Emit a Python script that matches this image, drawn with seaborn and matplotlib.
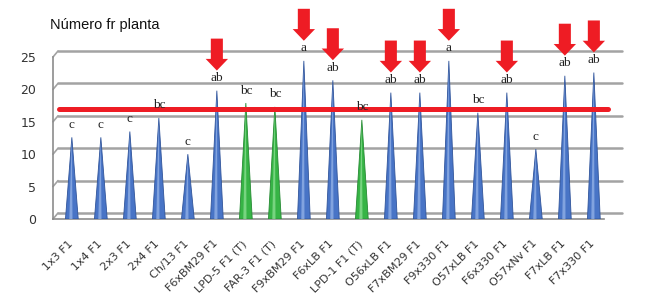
import numpy as np
import matplotlib
matplotlib.use("Agg")
import matplotlib.pyplot as plt
import matplotlib.transforms as mtrans
from matplotlib.patches import Polygon
import seaborn as sns

# data
categories = ["1x3 F1", "1x4 F1", "2x3 F1", "2x4 F1", "Ch/13 F1", "F6xBM29 F1",
              "LPD-5 F1 (T)", "FAR-3 F1 (T)", "F9xBM29 F1", "F6xLB F1",
              "LPD-1 F1 (T)", "O56xLB F1", "F7xBM29 F1", "F9x330 F1",
              "O57xLB F1", "F6x330 F1", "O57xNv F1", "F7xLB F1", "F7x330 F1"]
values = [12.6, 12.6, 13.5, 15.6, 10.0, 19.8, 17.9, 17.3, 24.4, 21.4,
          15.3, 19.5, 19.5, 24.4, 16.4, 19.5, 10.8, 22.1, 22.6]
groups = ["F1", "F1", "F1", "F1", "F1", "F1", "T", "T", "F1", "F1",
          "T", "F1", "F1", "F1", "F1", "F1", "F1", "F1", "F1"]
letters = ["c", "c", "c", "bc", "c", "ab", "bc", "bc", "a", "ab",
           "bc", "ab", "ab", "a", "bc", "ab", "c", "ab", "ab"]
marked = [False, False, False, False, False, True, False, False, True, True,
          False, True, True, True, False, True, False, True, True]
threshold = 17
yticks = [0, 5, 10, 15, 20, 25]

palette = {"F1": "#4874c6", "T": "#36b445"}
highlight = {"F1": "#9ab8ea", "T": "#93e39a"}
edge = {"F1": "#30549a", "T": "#268a33"}

sns.set_style("white")
plt.rcParams["font.family"] = ["DejaVu Sans"]

fig = plt.figure(figsize=(6.5, 3.06), dpi=100)
ax = fig.add_axes([53 / 650, 87 / 306, 551 / 650, 162 / 306])

sns.barplot(x=categories, y=values, hue=groups, palette=palette, width=0.44,
            dodge=False, errorbar=None, legend=False, ax=ax)

# turn the bars into cones
shift = 0.15
for p in list(ax.patches):
    x0, w, h = p.get_x(), p.get_width(), p.get_height()
    if not np.isfinite(h) or h == 0:
        p.remove()
        continue
    i = int(round(x0 + w / 2))
    g = groups[i]
    x0 += shift
    ax.add_patch(Polygon([(x0, 0), (x0 + w / 2, h), (x0 + w, 0)], closed=True,
                         facecolor=palette[g], edgecolor=edge[g], lw=0.6, zorder=3))
    ax.add_patch(Polygon([(x0 + w * 0.3, 0), (x0 + w / 2, h), (x0 + w * 0.55, 0)],
                         closed=True, facecolor=highlight[g], edgecolor="none",
                         alpha=0.7, zorder=4))
    p.remove()

ax.set_xlim(-0.5, len(categories) - 0.5)
ax.set_ylim(0, 25)

# back wall gridlines (3D look)
grid_c = "#a3a3a3"
back = ax.transData + mtrans.ScaledTranslation(0.05, 0.06, fig.dpi_scale_trans)
for v in yticks:
    ax.plot([-0.5, len(categories) - 0.05], [v, v], transform=back, color=grid_c,
            lw=1.8, clip_on=False, zorder=1)
    ax.annotate("", xy=(-0.5, v), xytext=(3.6, 4.3), textcoords="offset points",
                arrowprops=dict(arrowstyle="-", color=grid_c, lw=1.2,
                                shrinkA=0, shrinkB=0), zorder=1)

# reference line
ax.plot([-0.3, len(categories) - 0.35], [threshold, threshold], color="#ee1c24",
        lw=3.6, clip_on=False, zorder=5)

# letters and arrows
for i, (v, lab, m) in enumerate(zip(values, letters, marked)):
    xc = i + shift
    ax.annotate(lab, xy=(xc, v), xytext=(0, 9), textcoords="offset points",
                ha="center", va="center", fontsize=9.5, family="Liberation Serif",
                color="#222222", zorder=6, annotation_clip=False)
    if m:
        ax.annotate("", xy=(xc, v), xytext=(0, 37.5), textcoords="offset points",
                    xycoords="data", annotation_clip=False,
                    arrowprops=dict(arrowstyle="simple,head_length=0.6,head_width=1.15,tail_width=0.62",
                                    mutation_scale=14, color="#ee1c24", lw=0,
                                    shrinkA=0, shrinkB=14.5),
                    zorder=7)

# axes styling
for s in ["top", "right"]:
    ax.spines[s].set_visible(False)
for s in ["left", "bottom"]:
    ax.spines[s].set_color("#8c8c8c")
    ax.spines[s].set_linewidth(1.2)
ax.set_yticks(yticks)
ax.set_yticklabels([str(t) for t in yticks])
ax.tick_params(axis="y", length=4, width=1, color="#8c8c8c", pad=8,
               labelsize=9, labelcolor="#333333")
ax.set_xticks(range(len(categories)))
ax.set_xticklabels(categories, rotation=45, ha="right", rotation_mode="anchor")
ax.tick_params(axis="x", length=0, pad=14, labelsize=8, labelcolor="#333333")
ax.set_xticks(np.arange(-0.5, len(categories)), minor=True)
ax.tick_params(axis="x", which="minor", length=4, width=1, color="#8c8c8c")
ax.set_xlabel("")
ax.set_ylabel("")

fig.text(50 / 650, 1 - 25 / 306, "Número fr planta", ha="left", va="center",
         fontsize=10.5, family="Liberation Sans", color="#111111")

fig.savefig("out.png", dpi=100)
